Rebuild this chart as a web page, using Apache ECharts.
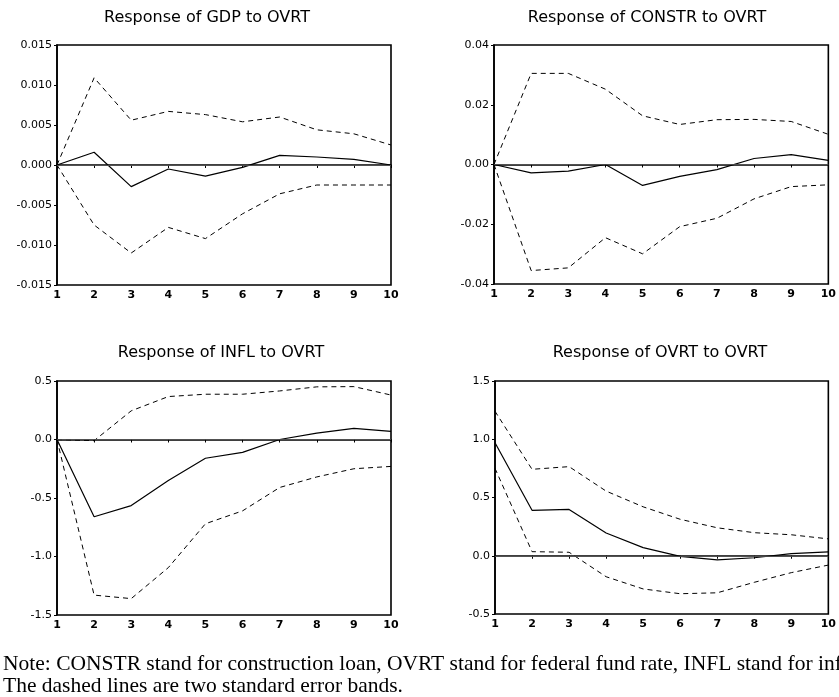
<!DOCTYPE html>
<html>
<head>
<meta charset="utf-8">
<script src="https://cdn.jsdelivr.net/npm/echarts@6/dist/echarts.min.js"></script>
<style>
html,body{margin:0;padding:0;background:#fff;}
#main{width:839px;height:697px;}
</style>
</head>
<body>
<div id="main"></div>
<script>
const periods = ['1','2','3','4','5','6','7','8','9','10'];

const gdpResp  = [0, 0.0016, -0.0027, -0.0005, -0.0014, -0.0003, 0.0012, 0.0010, 0.0007, 0];
const gdpUpper = [0, 0.0109, 0.0056, 0.0067, 0.0063, 0.0054, 0.0060, 0.0044, 0.0039, 0.0025];
const gdpLower = [0, -0.0075, -0.0110, -0.0078, -0.0092, -0.0061, -0.0036, -0.0025, -0.0025, -0.0025];

const constrResp  = [0, -0.0028, -0.0022, 0, -0.0070, -0.0040, -0.0017, 0.0020, 0.0033, 0.0014];
const constrUpper = [0, 0.0305, 0.0305, 0.0252, 0.0163, 0.0134, 0.0150, 0.0151, 0.0144, 0.0101];
const constrLower = [0, -0.0355, -0.0346, -0.0245, -0.0299, -0.0208, -0.0180, -0.0115, -0.0074, -0.0068];

const inflResp  = [0, -0.66, -0.565, -0.35, -0.16, -0.11, 0, 0.055, 0.095, 0.07];
const inflUpper = [0, -0.01, 0.245, 0.367, 0.387, 0.387, 0.415, 0.45, 0.452, 0.38];
const inflLower = [0, -1.33, -1.36, -1.095, -0.72, -0.61, -0.41, -0.32, -0.25, -0.23];

const ovrtResp  = [0.97, 0.39, 0.398, 0.195, 0.07, -0.005, -0.035, -0.017, 0.018, 0.033];
const ovrtUpper = [1.24, 0.742, 0.765, 0.555, 0.42, 0.313, 0.24, 0.198, 0.18, 0.145];
const ovrtLower = [0.75, 0.035, 0.03, -0.18, -0.285, -0.326, -0.318, -0.228, -0.145, -0.08];

const titles = ['Response of GDP to OVRT', 'Response of CONSTR to OVRT', 'Response of INFL to OVRT', 'Response of OVRT to OVRT'];
const noteLines = [
  'Note: CONSTR stand for construction loan, OVRT stand for federal fund rate, INFL stand for inflation.',
  'The dashed lines are two standard error bands.'
];

const panels = [
  {resp: gdpResp, up: gdpUpper, lo: gdpLower, min: -0.015, max: 0.015, interval: 0.005, dec: 3,
   grid: {left: 57, top: 45, width: 334, height: 240}, tx: 207, ty: 18},
  {resp: constrResp, up: constrUpper, lo: constrLower, min: -0.04, max: 0.04, interval: 0.02, dec: 2,
   grid: {left: 494, top: 45, width: 339, height: 239}, tx: 647, ty: 18},
  {resp: inflResp, up: inflUpper, lo: inflLower, min: -1.5, max: 0.5, interval: 0.5, dec: 1,
   grid: {left: 57, top: 381, width: 334, height: 234}, tx: 221, ty: 353},
  {resp: ovrtResp, up: ovrtUpper, lo: ovrtLower, min: -0.5, max: 1.5, interval: 0.5, dec: 1,
   grid: {left: 495, top: 381, width: 338, height: 233}, tx: 660, ty: 353}
];

const grids = [], xAxes = [], yAxes = [], series = [], graphics = [];
panels.forEach((p, i) => {
  grids.push(Object.assign({show: true, borderColor: '#000', borderWidth: 1.6, backgroundColor: '#fff'}, p.grid));
  xAxes.push({
    type: 'category', gridIndex: i, data: periods, boundaryGap: false,
    axisLine: {show: true, lineStyle: {color: '#000', width: 1.6}},
    axisTick: {show: true, alignWithLabel: true, length: 3, lineStyle: {color: '#000'}},
    axisLabel: {color: '#000', fontSize: 11, fontFamily: 'DejaVu Sans', fontWeight: 'bold', margin: 5, interval: 0},
    splitLine: {show: false}
  });
  yAxes.push({
    type: 'value', gridIndex: i, min: p.min, max: p.max, interval: p.interval,
    axisLine: {show: true, lineStyle: {color: '#000', width: 1.6}},
    axisTick: {show: true, length: 3, lineStyle: {color: '#000'}},
    axisLabel: {color: '#000', fontSize: 11, fontFamily: 'DejaVu Sans', margin: 5,
      formatter: v => (Math.abs(v) < 1e-12 ? 0 : v).toFixed(p.dec)},
    splitLine: {show: false}
  });
  series.push({
    type: 'line', xAxisIndex: i, yAxisIndex: i, data: p.resp, symbol: 'none',
    lineStyle: {color: '#000', width: 1.2, type: 'solid'}, z: 3,
    markLine: {silent: true, symbol: 'none', label: {show: false},
      lineStyle: {color: '#555', width: 0.8, type: 'solid'}, data: [{yAxis: 0}]}
  });
  series.push({
    type: 'line', xAxisIndex: i, yAxisIndex: i, data: p.up, symbol: 'none',
    lineStyle: {color: '#000', width: 1, type: [5, 4]}, z: 2
  });
  series.push({
    type: 'line', xAxisIndex: i, yAxisIndex: i, data: p.lo, symbol: 'none',
    lineStyle: {color: '#000', width: 1, type: [5, 4]}, z: 2
  });
  graphics.push({
    type: 'text', x: p.tx, y: p.ty,
    style: {text: titles[i], fill: '#000', font: '16px "DejaVu Sans"', textAlign: 'center', textVerticalAlign: 'middle'}
  });
});

graphics.push({
  type: 'text', x: 3, y: 664,
  style: {text: noteLines[0], fill: '#000', font: '21.5px "Liberation Serif"', textAlign: 'left', textVerticalAlign: 'middle'}
});
graphics.push({
  type: 'text', x: 3, y: 686,
  style: {text: noteLines[1], fill: '#000', font: '21.5px "Liberation Serif"', textAlign: 'left', textVerticalAlign: 'middle'}
});

const chart = echarts.init(document.getElementById('main'), null, {renderer: 'canvas'});
chart.setOption({
  animation: false,
  backgroundColor: '#fff',
  grid: grids, xAxis: xAxes, yAxis: yAxes, series: series,
  graphic: graphics
});
</script>
</body>
</html>
